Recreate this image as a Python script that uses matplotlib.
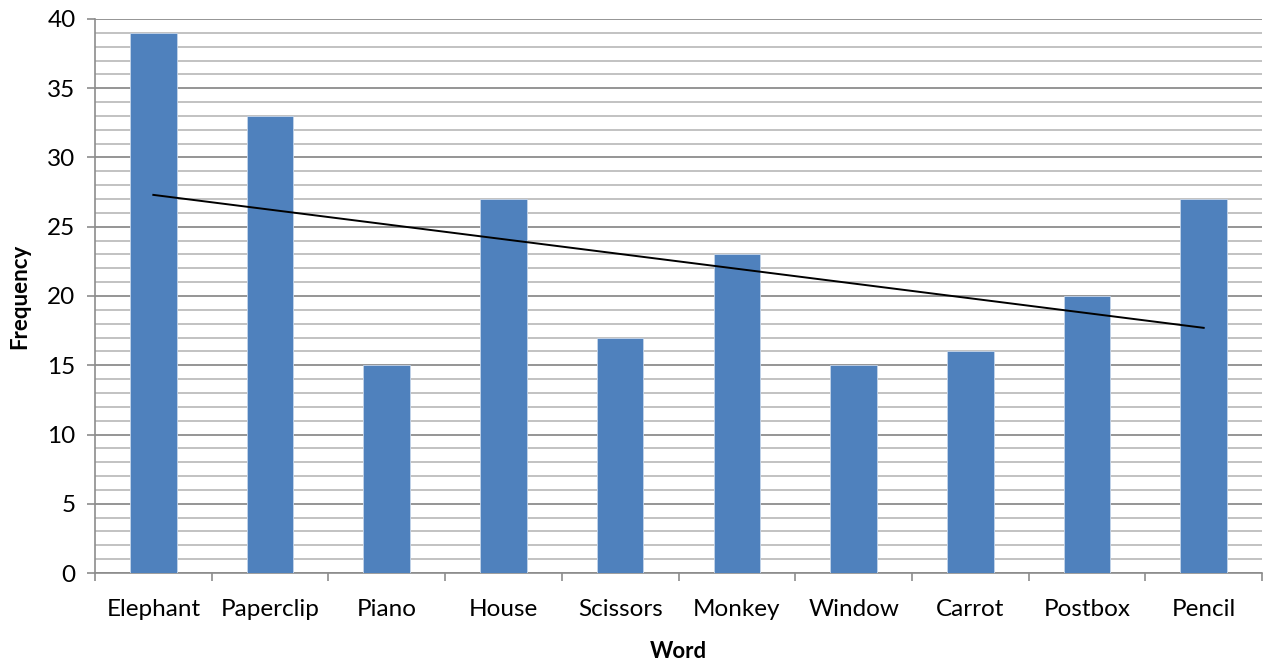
import numpy as np
import matplotlib.pyplot as plt
from matplotlib.ticker import MultipleLocator, FixedLocator

# Data ------------------------------------------------------------------
words = ['Elephant', 'Paperclip', 'Piano', 'House', 'Scissors',
         'Monkey', 'Window', 'Carrot', 'Postbox', 'Pencil']
frequency = [39, 33, 15, 27, 17, 23, 15, 16, 20, 27]
# trend line as drawn in the chart (first and last category)
trend_start = 27.3
trend_end = 17.7

plt.rcParams['font.family'] = ['Lato', 'DejaVu Sans']

fig = plt.figure(figsize=(12.73, 6.61), dpi=100)
ax = fig.add_axes([0.0746, 0.1331, 0.9168, 0.8382])

x = np.arange(len(words))
ax.bar(x, frequency, width=0.4, color='#4f81bd', edgecolor='#c5d5ea',
       linewidth=0.6, zorder=3)

ax.plot([x[0], x[-1]], [trend_start, trend_end], color='black',
        linewidth=1.4, zorder=4)

ax.set_xlim(-0.5, len(words) - 0.5)
ax.set_ylim(0, 40)

ax.yaxis.set_major_locator(MultipleLocator(5))
ax.yaxis.set_minor_locator(MultipleLocator(1))
ax.grid(which='major', axis='y', color='#8c8c8c', linewidth=1.3, zorder=0)
ax.grid(which='minor', axis='y', color='#b8b8b8', linewidth=1.2, zorder=0)

ax.set_xticks(x)
ax.set_xticklabels(words)
ax.xaxis.set_minor_locator(FixedLocator(np.arange(-0.5, len(words), 1.0)))
ax.tick_params(axis='x', which='major', length=0, pad=19, labelsize=17.5)
ax.tick_params(axis='x', which='minor', length=6, width=1.2, color='#8c8c8c')
ax.tick_params(axis='y', which='major', length=6, width=1.2, color='#8c8c8c',
               pad=8, labelsize=17.5)
ax.tick_params(axis='y', which='minor', length=0)

for s in ['top', 'right']:
    ax.spines[s].set_visible(False)
for s in ['left', 'bottom']:
    ax.spines[s].set_color('#8c8c8c')
    ax.spines[s].set_linewidth(1.2)

ax.set_xlabel('Word', fontsize=16, fontweight='bold', labelpad=15)
ax.set_ylabel('Frequency', fontsize=16, fontweight='bold', labelpad=12)

fig.savefig('out.png', dpi=100)
